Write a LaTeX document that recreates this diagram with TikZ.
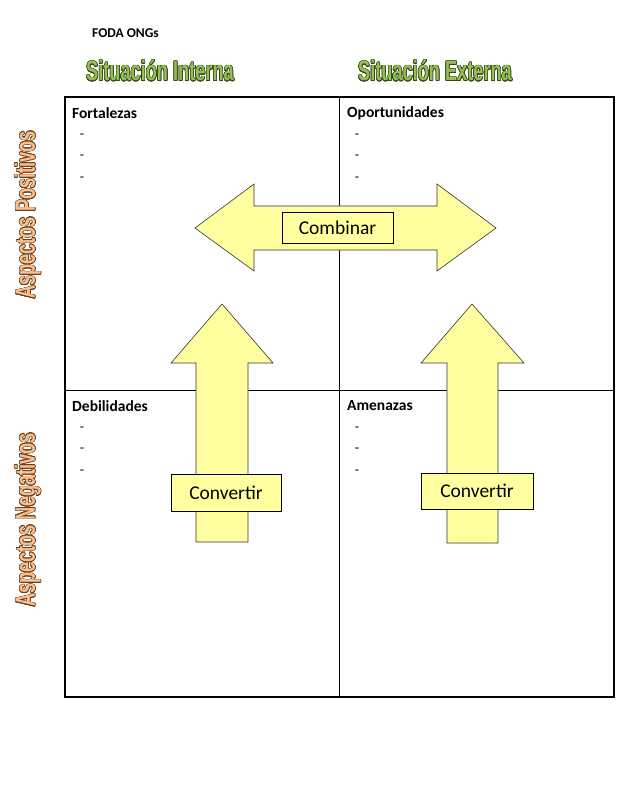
\documentclass[tikz,border=0pt]{standalone}
\usepackage{fontspec}
\setmainfont{Carlito}
\newfontfamily\titfont[FakeStretch=0.65]{Liberation Sans}
\usepackage{contour}
\contourlength{0.6pt}
\usetikzlibrary{positioning}

\definecolor{amarillo}{RGB}{255,255,160}
\definecolor{verdeC}{RGB}{155,187,89}
\definecolor{verdeO}{RGB}{40,75,20}
\definecolor{salmonC}{RGB}{250,192,144}
\definecolor{salmonO}{RGB}{105,65,30}

\begin{document}
\begin{tikzpicture}[x=1pt,y=-1pt,
	flecha/.style={draw=black!80, line width=0.6pt, fill=amarillo},
	caja/.style={rectangle, draw=black, line width=0.8pt, fill=amarillo,
		inner sep=0pt, font=\fontsize{19.5}{21}\selectfont},
	celda/.style={anchor=west, font=\fontsize{15.5}{17}\selectfont\bfseries, inner sep=0pt},
	guion/.style={anchor=center, font=\fontsize{14}{16}\selectfont, inner sep=0pt},
	titulo/.style={font=\titfont\fontsize{28}{30}\selectfont\bfseries, inner sep=0pt}
	]
	\useasboundingbox (0,0) rectangle (631,786);
	% encabezados
	\node (foda) [anchor=west, inner sep=0pt, font=\fontsize{13.5}{15}\selectfont\bfseries] at (92,33) {FODA ONGs};
	\node (sint) [titulo] at (160,71) {\contour{verdeO}{\textcolor{verdeC}{Situación Interna}}};
	\node (sext) [titulo] at (435,71) {\contour{verdeO}{\textcolor{verdeC}{Situación Externa}}};
	\node (apos) [titulo, rotate=90] at (28,215) {\contour{salmonO}{\textcolor{salmonC}{Aspectos Positivos}}};
	\node (aneg) [titulo, rotate=90] at (28,520) {\contour{salmonO}{\textcolor{salmonC}{Aspectos Negativos}}};
	% matriz
	\coordinate (no) at (65,97);
	\coordinate (se) at (614,697);
	\draw[line width=1pt] (339,97) -- (339,697);
	\draw[line width=1pt] (65,390) -- (614,390);
	\draw[line width=1.8pt] (no) rectangle (se);
	\node (fort) [celda] at (72,113) {Fortalezas};
	\node (opor) [celda] at (347,113) {Oportunidades};
	\node (debi) [celda] at (72,406) {Debilidades};
	\node (amen) [celda] at (347,406) {Amenazas};
	\foreach \x/\y in {82/0,357/0,82/293,357/293}{
		\foreach \d in {136,157,179}
			\node [guion] at (\x,\d+\y) {-};
	}
	% flechas
	\draw[flecha] (195,228) -- (254,184) -- (254,206) -- (437,206) -- (437,184) -- (496,228)
		-- (437,271) -- (437,250) -- (254,250) -- (254,271) -- cycle;
	\draw[flecha] (222,304) -- (273,363) -- (248,363) -- (248,542) -- (196,542) -- (196,363)
		-- (171,363) -- cycle;
	\draw[flecha] (472,304) -- (524,363) -- (498,363) -- (498,543) -- (447,543) -- (447,363)
		-- (421,363) -- cycle;
	\node (comb) [caja, minimum width=111pt, minimum height=31pt] at (337.5,227.5) {Combinar};
	\node (conv1) [caja, minimum width=110pt, minimum height=37pt] at (226,492.5) {Convertir};
	\node (conv2) [caja, minimum width=112pt, minimum height=36pt] at (477,491) {Convertir};
\end{tikzpicture}
\end{document}
